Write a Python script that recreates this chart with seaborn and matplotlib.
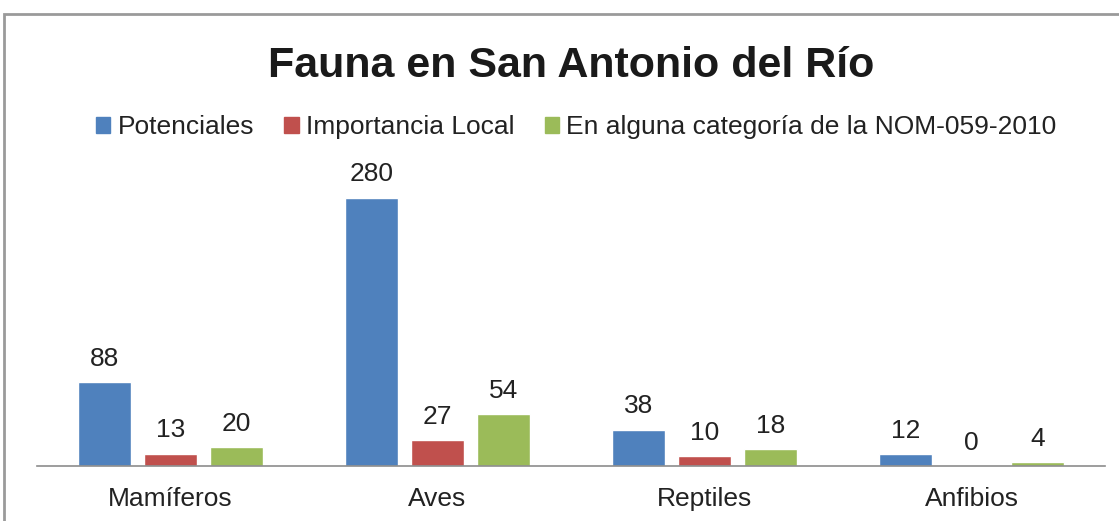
import matplotlib
matplotlib.use('Agg')
import matplotlib.pyplot as plt
import pandas as pd
import seaborn as sns
from matplotlib.patches import Rectangle

categories = ['Mamíferos', 'Aves', 'Reptiles', 'Anfibios']
series_names = ['Potenciales', 'Importancia Local', 'En alguna categoría de la NOM-059-2010']
potenciales = [88, 280, 38, 12]
importancia_local = [13, 27, 10, 0]
nom_059 = [20, 54, 18, 4]
colors = ['#4F81BD', '#C0504D', '#9BBB59']

df = pd.DataFrame({
    'grupo': categories * 3,
    'serie': [series_names[0]] * 4 + [series_names[1]] * 4 + [series_names[2]] * 4,
    'valor': potenciales + importancia_local + nom_059,
})

sns.set_theme(style='white')
plt.rcParams['font.family'] = ['Liberation Sans', 'DejaVu Sans']

fig = plt.figure(figsize=(11.19, 5.21), dpi=100)
ax = fig.add_axes([0.033, 0.1056, 0.9545, 0.552])

sns.barplot(data=df, x='grupo', y='valor', hue='serie', order=categories,
            hue_order=series_names, palette=colors, width=0.74, gap=0.2,
            saturation=1, ax=ax, legend=False)

for cont in ax.containers:
    ax.bar_label(cont, fmt='%d', padding=8, fontsize=19, color='#222222')

ax.set_ylim(0, 300)
ax.set_xlim(-0.5, 3.5)
ax.set_xlabel('')
ax.set_ylabel('')
ax.set_yticks([])
ax.tick_params(axis='x', length=0, labelsize=19, pad=15, labelcolor='#222222')
for s in ['top', 'right', 'left']:
    ax.spines[s].set_visible(False)
ax.spines['bottom'].set_color('#8c8c8c')
ax.spines['bottom'].set_linewidth(1.2)

fig.text(571 / 1119, 1 - 66 / 521, 'Fauna en San Antonio del Río', ha='center', va='center',
         fontsize=31, fontweight='bold', color='#1a1a1a')

handles = [Rectangle((0, 0), 1, 1, color=c) for c in colors]
fig.legend(handles, series_names, loc='center', bbox_to_anchor=(0.515, 1 - 127 / 521),
           ncol=3, frameon=False, fontsize=19, handlelength=0.55, handleheight=0.55,
           handletextpad=0.27, columnspacing=1.15, labelcolor='#222222')

# chart frame
fig.patches.append(Rectangle((4 / 1119, -0.1), 1.2, 1 - 14 / 521 + 0.1,
                             transform=fig.transFigure, fill=False,
                             edgecolor='#9a9a9a', linewidth=2))

fig.savefig('out.png', dpi=100)
